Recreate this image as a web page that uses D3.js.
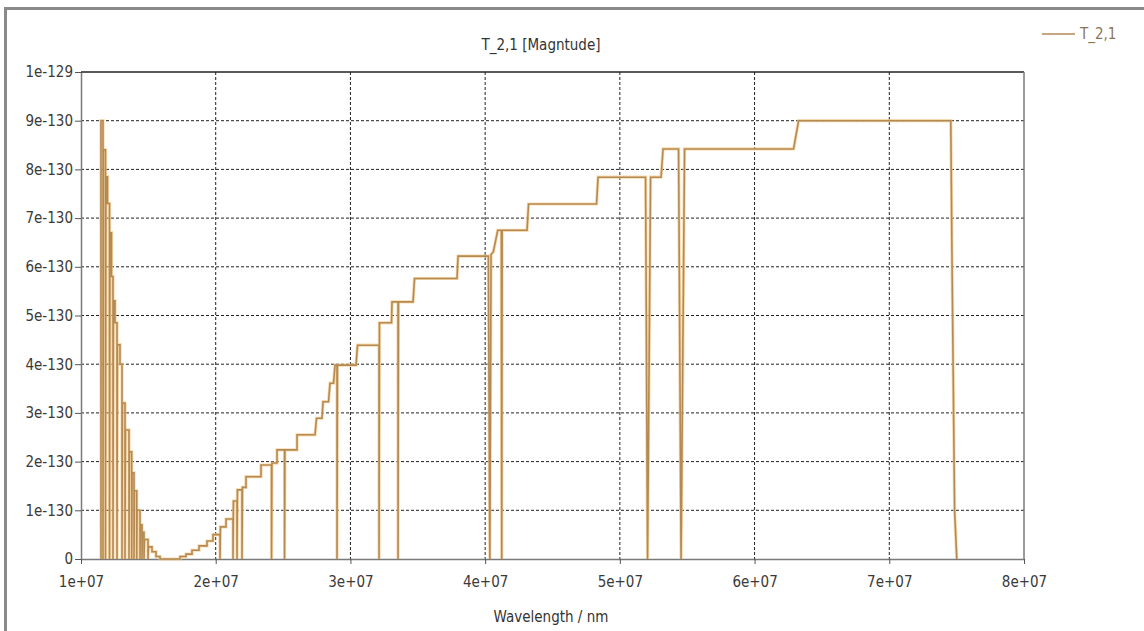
<!DOCTYPE html>
<html>
<head>
<meta charset="utf-8">
<script src="https://cdn.jsdelivr.net/npm/d3@7"></script>
<style>
  body { margin: 0; background: #fff; }
  text { font-family: "Liberation Sans Narrow", "DejaVu Sans Condensed", "Liberation Sans", sans-serif; }
</style>
</head>
<body>
<svg id="svg"></svg>
<script>
// T_2,1 magnitude against wavelength (nm)
const wavelength = [
    1.1485e7, 1.1485e7, 1.1633e7, 1.1633e7, 1.1663e7, 1.1819e7, 1.1819e7, 1.1849e7, 1.1967e7, 1.1967e7,
    1.2116e7, 1.2116e7, 1.2146e7, 1.2264e7, 1.2264e7, 1.2376e7, 1.2376e7, 1.2405e7, 1.2524e7, 1.2524e7,
    1.2673e7, 1.2673e7, 1.2702e7, 1.2895e7, 1.2895e7, 1.3044e7, 1.3044e7, 1.3073e7, 1.3267e7, 1.3267e7,
    1.3296e7, 1.3563e7, 1.3563e7, 1.3593e7, 1.3764e7, 1.3764e7, 1.3794e7, 1.3935e7, 1.3935e7, 1.3964e7,
    1.4135e7, 1.4135e7, 1.4165e7, 1.4380e7, 1.4380e7, 1.4410e7, 1.4529e7, 1.4529e7, 1.4558e7, 1.4677e7,
    1.4677e7, 1.4707e7, 1.4974e7, 1.4974e7, 1.5004e7, 1.5271e7, 1.5271e7, 1.5568e7, 1.5568e7, 1.5865e7,
    1.5865e7, 1.7350e7, 1.7350e7, 1.7795e7, 1.7795e7, 1.8241e7, 1.8241e7, 1.8760e7, 1.8760e7, 1.9354e7,
    1.9354e7, 1.9800e7, 1.9800e7, 2.0319e7, 2.0319e7, 2.0349e7, 2.0765e7, 2.0765e7, 2.1284e7, 2.1284e7,
    2.1314e7, 2.1581e7, 2.1581e7, 2.1611e7, 2.1952e7, 2.1952e7, 2.1982e7, 2.2249e7, 2.2249e7, 2.3363e7,
    2.3363e7, 2.4143e7, 2.4143e7, 2.4172e7, 2.4551e7, 2.4551e7, 2.5108e7, 2.5108e7, 2.5137e7, 2.6036e7,
    2.6036e7, 2.7372e7, 2.7483e7, 2.7892e7, 2.7966e7, 2.8374e7, 2.8486e7, 2.8745e7, 2.8857e7, 2.9005e7,
    2.9005e7, 2.9035e7, 3.0416e7, 3.0527e7, 3.2123e7, 3.2123e7, 3.2153e7, 3.3051e7, 3.3088e7, 3.3534e7,
    3.3534e7, 3.3563e7, 3.4647e7, 3.4759e7, 3.7914e7, 3.7988e7, 4.0238e7, 4.0349e7, 4.0438e7, 4.0609e7,
    4.0935e7, 4.1203e7, 4.1232e7, 4.1262e7, 4.3111e7, 4.3222e7, 4.8270e7, 4.8382e7, 5.1908e7, 5.2056e7,
    5.2279e7, 5.3059e7, 5.3207e7, 5.4358e7, 5.4543e7, 5.4803e7, 6.2895e7, 6.3267e7, 7.4566e7, 7.4662e7,
    7.4848e7, 7.5011e7
];
const magnitude = [
    0, 9.0e-130, 9.0e-130, 0, 8.4e-130, 8.4e-130, 0, 7.85e-130, 7.85e-130, 7.3e-130,
    7.3e-130, 0, 6.7e-130, 6.7e-130, 5.8e-130, 5.8e-130, 0, 5.3e-130, 5.3e-130, 4.85e-130,
    4.85e-130, 0, 4.4e-130, 4.4e-130, 4.0e-130, 4.0e-130, 0, 3.2e-130, 3.2e-130, 0,
    2.65e-130, 2.65e-130, 0, 2.2e-130, 2.2e-130, 0, 1.77e-130, 1.77e-130, 0, 1.4e-130,
    1.4e-130, 0, 1.0e-130, 1.0e-130, 0, 0.7e-130, 0.7e-130, 0, 0.55e-130, 0.55e-130,
    0, 0.4e-130, 0.4e-130, 0, 0.25e-130, 0.25e-130, 0.15e-130, 0.15e-130, 0.05e-130, 0.05e-130,
    0, 0, 0.05e-130, 0.05e-130, 0.1e-130, 0.1e-130, 0.18e-130, 0.18e-130, 0.27e-130, 0.27e-130,
    0.37e-130, 0.37e-130, 0.5e-130, 0.5e-130, 0, 0.66e-130, 0.66e-130, 0.82e-130, 0.82e-130, 0,
    1.19e-130, 1.19e-130, 0, 1.42e-130, 1.42e-130, 0, 1.47e-130, 1.47e-130, 1.69e-130, 1.69e-130,
    1.93e-130, 1.93e-130, 0, 1.97e-130, 1.97e-130, 2.24e-130, 2.24e-130, 0, 2.24e-130, 2.24e-130,
    2.55e-130, 2.55e-130, 2.89e-130, 2.89e-130, 3.23e-130, 3.23e-130, 3.61e-130, 3.61e-130, 3.98e-130, 3.98e-130,
    0, 3.98e-130, 3.98e-130, 4.39e-130, 4.39e-130, 0, 4.85e-130, 4.85e-130, 5.28e-130, 5.28e-130,
    0, 5.28e-130, 5.28e-130, 5.76e-130, 5.76e-130, 6.22e-130, 6.22e-130, 0, 6.25e-130, 6.31e-130,
    6.75e-130, 6.75e-130, 0, 6.75e-130, 6.75e-130, 7.29e-130, 7.29e-130, 7.84e-130, 7.84e-130, 0,
    7.84e-130, 7.84e-130, 8.42e-130, 8.42e-130, 0, 8.42e-130, 8.42e-130, 9.0e-130, 9.0e-130, 6.0e-130,
    1.0e-130, 0
];

const xTicks = [1e7, 2e7, 3e7, 4e7, 5e7, 6e7, 7e7, 8e7];
const xTickLabels = ["1e+07", "2e+07", "3e+07", "4e+07", "5e+07", "6e+07", "7e+07", "8e+07"];
const yTicks = [0, 1e-130, 2e-130, 3e-130, 4e-130, 5e-130, 6e-130, 7e-130, 8e-130, 9e-130, 1e-129];
const yTickLabels = ["0", "1e-130", "2e-130", "3e-130", "4e-130", "5e-130", "6e-130", "7e-130", "8e-130", "9e-130", "1e-129"];

const seriesName = "T_2,1";
const chartTitle = "T_2,1 [Magntude]";
const xLabel = "Wavelength / nm";

const width = 1144;
const height = 631;
const margin = { top: 72, right: 120, bottom: 72, left: 81 };
const chartWidth = width - margin.left - margin.right;
const chartHeight = height - margin.top - margin.bottom;

let svg = d3.select("#svg").attr("width", width).attr("height", height);

svg.append("rect")
    .attr("width", width).attr("height", height)
    .attr("fill", "#fff");

// outer window frame
svg.append("rect")
    .attr("x", 5.5).attr("y", 8.5)
    .attr("width", width + 20).attr("height", height + 20)
    .attr("fill", "none")
    .attr("stroke", "#8a8a8a")
    .attr("stroke-width", 3);

let chart = svg.append("g")
    .attr("transform", "translate(" + margin.left + "," + margin.top + ")");

let xScale = d3.scaleLinear().domain([1e7, 8e7]).range([0, chartWidth]);
let yScale = d3.scaleLinear().domain([0, 1e-129]).range([chartHeight, 0]);

// dotted grid
chart.append("g")
    .selectAll("line")
    .data(yTicks.slice(1, -1))
    .enter()
    .append("line")
        .attr("x1", 0).attr("x2", chartWidth)
        .attr("y1", d => yScale(d)).attr("y2", d => yScale(d))
        .attr("stroke", "#222")
        .attr("stroke-dasharray", "3,2");

chart.append("g")
    .selectAll("line")
    .data(xTicks.slice(1, -1))
    .enter()
    .append("line")
        .attr("x1", d => xScale(d)).attr("x2", d => xScale(d))
        .attr("y1", 0).attr("y2", chartHeight)
        .attr("stroke", "#222")
        .attr("stroke-dasharray", "3,2");

// axes
let xAxis = chart.append("g")
    .attr("transform", `translate(0,${chartHeight})`)
    .call(d3.axisBottom(xScale).tickValues(xTicks).tickFormat((d, i) => xTickLabels[i]).tickSize(5).tickSizeOuter(0));

let yAxis = chart.append("g")
    .call(d3.axisLeft(yScale).tickValues(yTicks).tickFormat((d, i) => yTickLabels[i]).tickSize(6).tickSizeOuter(0));

[xAxis, yAxis].forEach(a => {
    a.select(".domain").attr("stroke", "#7a7a7a").attr("stroke-width", 1.5);
    a.selectAll(".tick line").attr("stroke", "#555");
    a.selectAll(".tick text").attr("fill", "#3a3a3a").style("font-size", "15px");
});
xAxis.selectAll(".tick text").attr("dy", "1.3em");
yAxis.selectAll(".tick text").attr("x", -8);

// top and right border of the plot box
chart.append("line")
    .attr("x1", 0).attr("x2", chartWidth).attr("y1", 0).attr("y2", 0)
    .attr("stroke", "#222").attr("stroke-width", 1.5);
chart.append("line")
    .attr("x1", chartWidth).attr("x2", chartWidth).attr("y1", 0).attr("y2", chartHeight)
    .attr("stroke", "#7a7a7a").attr("stroke-width", 1.5);

// the series
let points = wavelength.map((w, i) => [w, magnitude[i]]);
let line = d3.line()
    .x(d => xScale(d[0]))
    .y(d => yScale(d[1]));

chart.append("path")
    .datum(points)
    .attr("d", line)
    .attr("fill", "none")
    .attr("stroke", "#f2c98c")
    .attr("stroke-width", 3.2)
    .attr("stroke-opacity", 0.7);

chart.append("path")
    .datum(points)
    .attr("d", line)
    .attr("fill", "none")
    .attr("stroke", "#b58a52")
    .attr("stroke-width", 1.6);

// title and axis label
svg.append("text")
    .attr("x", 541).attr("y", 50)
    .attr("text-anchor", "middle")
    .attr("fill", "#333")
    .style("font-size", "15px")
    .text(chartTitle);

svg.append("text")
    .attr("x", 551).attr("y", 622)
    .attr("text-anchor", "middle")
    .attr("fill", "#333")
    .style("font-size", "15px")
    .text(xLabel);

// legend
svg.append("line")
    .attr("x1", 1042).attr("x2", 1075).attr("y1", 34).attr("y2", 34)
    .attr("stroke", "#b58a52").attr("stroke-width", 1.6);
svg.append("text")
    .attr("x", 1080).attr("y", 39)
    .attr("fill", "#8c7558")
    .style("font-size", "15px")
    .text(seriesName);
</script>
</body>
</html>
